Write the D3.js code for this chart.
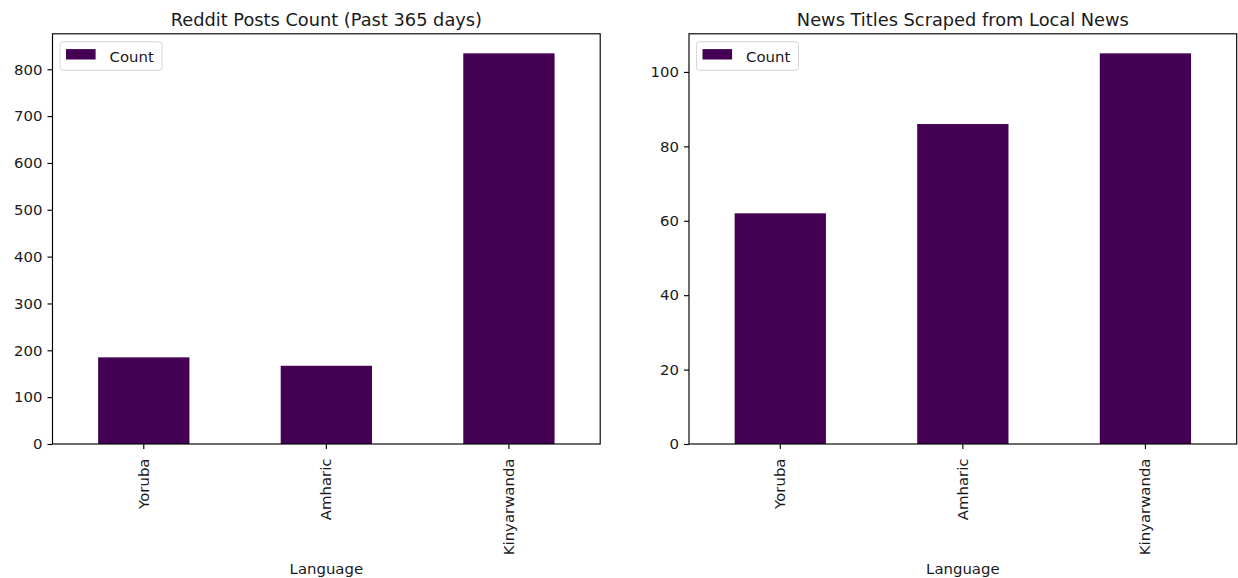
<!DOCTYPE html>
<html>
<head>
<meta charset="utf-8">
<script src="https://cdn.jsdelivr.net/npm/d3@7"></script>
<style>
  html, body { margin: 0; padding: 0; background: #fff; }
  svg { display: block; font-family: "DejaVu Sans", sans-serif; }
</style>
</head>
<body>
<svg id="chart" width="1238" height="578"></svg>
<script>
// ---- data ----
const languages = ["Yoruba", "Amharic", "Kinyarwanda"];
const redditCounts = [185, 167, 834];
const newsCounts = [62, 86, 105];
const redditTicks = [0, 100, 200, 300, 400, 500, 600, 700, 800];
const newsTicks = [0, 20, 40, 60, 80, 100];
const titles = ["Reddit Posts Count (Past 365 days)", "News Titles Scraped from Local News"];
const xLabel = "Language";
const legendLabel = "Count";
const barColor = "#440154";

const svg = d3.select("#chart");
const plotTop = 33.8, plotBottom = 444;
const fs = 14.9, titleFs = 17.8;
const tickLen = 5, tickPad = 5;
const textColor = "#1a1a1a";

function panel(x0, x1, values, ticks, title) {
  const g = svg.append("g");
  const x = d3.scaleBand().domain(languages).range([x0, x1]).paddingInner(0.5).paddingOuter(0.25);
  const y = d3.scaleLinear().domain([0, d3.max(values) * 1.05]).range([plotBottom, plotTop]);

  // bars
  g.selectAll("rect.bar").data(languages).enter().append("rect")
    .attr("class", "bar")
    .attr("x", d => x(d))
    .attr("width", x.bandwidth())
    .attr("y", (d, i) => y(values[i]))
    .attr("height", (d, i) => plotBottom - y(values[i]))
    .attr("fill", barColor);

  // y axis
  const yAxis = d3.axisLeft(y).tickValues(ticks).tickSize(tickLen).tickPadding(tickPad).tickFormat(d3.format("d"));
  const ya = g.append("g").attr("transform", `translate(${x0},0)`).call(yAxis);
  ya.select(".domain").remove();
  ya.selectAll("line").attr("stroke", "#000").attr("stroke-width", 1.15);
  ya.selectAll("text").attr("font-size", fs).attr("font-family", "DejaVu Sans").attr("fill", textColor);

  // x axis
  const xAxis = d3.axisBottom(x).tickSize(tickLen).tickPadding(tickPad);
  const xa = g.append("g").attr("transform", `translate(0,${plotBottom})`).call(xAxis);
  xa.select(".domain").remove();
  xa.selectAll("line").attr("stroke", "#000").attr("stroke-width", 1.15);
  xa.selectAll("text")
    .attr("font-size", fs).attr("font-family", "DejaVu Sans").attr("fill", textColor)
    .attr("text-anchor", "end")
    .attr("y", 0).attr("x", 0).attr("dy", "0.33em")
    .attr("transform", `translate(0,14.5) rotate(-90)`);

  // spines
  g.append("rect").attr("x", x0).attr("y", plotTop).attr("width", x1 - x0).attr("height", plotBottom - plotTop)
    .attr("fill", "none").attr("stroke", "#000").attr("stroke-width", 1.15);

  // title
  g.append("text").attr("x", (x0 + x1) / 2).attr("y", 26)
    .attr("text-anchor", "middle").attr("font-size", titleFs).attr("fill", textColor).text(title);

  // x label
  g.append("text").attr("x", (x0 + x1) / 2).attr("y", 574)
    .attr("text-anchor", "middle").attr("font-size", fs).attr("fill", textColor).text(xLabel);

  // legend
  const lg = g.append("g").attr("transform", `translate(${x0 + 7.5},${plotTop + 8})`);
  lg.append("rect").attr("x", 0).attr("y", 0).attr("width", 102).attr("height", 28.5)
    .attr("rx", 3).attr("ry", 3).attr("fill", "#fff").attr("fill-opacity", 0.8)
    .attr("stroke", "#d6d6d6").attr("stroke-width", 1);
  lg.append("rect").attr("x", 6).attr("y", 7.3).attr("width", 29.6).attr("height", 10.4).attr("fill", barColor);
  lg.append("text").attr("x", 49.5).attr("y", 19.8).attr("font-size", fs).attr("fill", textColor).text(legendLabel);
}

panel(52.5, 600.2, redditCounts, redditTicks, titles[0]);
panel(689, 1236.7, newsCounts, newsTicks, titles[1]);
</script>
</body>
</html>
